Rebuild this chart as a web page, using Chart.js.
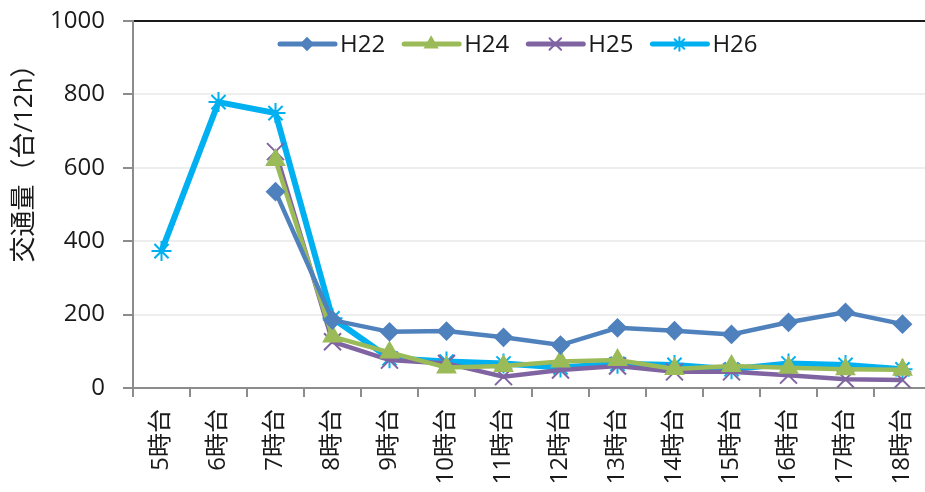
<!DOCTYPE html>
<html>
<head>
<meta charset="utf-8">
<script src="https://cdn.jsdelivr.net/npm/chart.js@4.4.1/dist/chart.umd.min.js"></script>
<style>
  html, body { margin: 0; background: #fff; overflow: hidden; }
</style>
</head>
<body>
<canvas id="chart" width="945" height="520"></canvas>
<script>
// categories and series (null = no survey that hour)
const hours = ['5時台', '6時台', '7時台', '8時台', '9時台', '10時台', '11時台',
  '12時台', '13時台', '14時台', '15時台', '16時台', '17時台', '18時台'];
const h22 = [null, null, 535, 185, 153, 155, 138, 117, 164, 156, 146, 179, 206, 174];
const h24 = [null, null, 621, 140, 97, 56, 60, 72, 76, 52, 60, 55, 51, 50];
const h25 = [null, null, 644, 126, 76, 67, 31, 49, 60, 44, 44, 35, 24, 22];
const h26 = [373, 779, 749, 190, 81, 72, 67, 56, 66, 63, 51, 67, 63, 51];
const yTicks = [0, 200, 400, 600, 800, 1000];
const yTitle = '交通量（台/12h）';

const font = "'Open Sans', 'Noto Sans CJK JP', sans-serif";
const textColor = '#1a1a1a';

function series(label, data, color, style, r, lw) {
  return {
    label: label,
    data: data,
    borderColor: color,
    backgroundColor: color,
    borderWidth: lw,
    pointStyle: style,
    pointRadius: r,
    pointBorderWidth: 2,
    pointBackgroundColor: color,
    pointBorderColor: color,
    tension: 0
  };
}

// y axis title, sits higher than the middle of the axis like in the original
const yTitlePlugin = {
  id: 'yTitle',
  afterDraw(chart) {
    const c = chart.ctx;
    c.save();
    c.translate(25, 157);
    c.rotate(-Math.PI / 2);
    c.font = '26px ' + font;
    c.fillStyle = textColor;
    c.textAlign = 'center';
    c.textBaseline = 'middle';
    c.fillText(yTitle, 0, 0);
    c.restore();
  }
};

// legend inside the plot: line + marker + name
const legendPlugin = {
  id: 'lineLegend',
  afterDatasetsDraw(chart) {
    const c = chart.ctx;
    const y = 44;
    let x = 280;
    c.save();
    c.font = '24px ' + font;
    chart.data.datasets.forEach(function(ds) {
      c.strokeStyle = ds.borderColor;
      c.fillStyle = ds.borderColor;
      c.lineWidth = 5;
      c.lineCap = 'round';
      c.beginPath();
      c.moveTo(x, y);
      c.lineTo(x + 55, y);
      c.stroke();
      c.lineWidth = 2;
      Chart.helpers.drawPoint(c, {
        pointStyle: ds.pointStyle,
        radius: ds.pointRadius * 0.68,
        rotation: 0,
        borderWidth: 2
      }, x + 27, y);
      c.fillStyle = textColor;
      c.textAlign = 'left';
      c.textBaseline = 'middle';
      c.fillText(ds.label, x + 60, y + 1);
      x += 60 + c.measureText(ds.label).width + 19;
    });
    c.restore();
  }
};

const ctx = document.getElementById('chart').getContext('2d');
new Chart(ctx, {
  type: 'line',
  data: {
    labels: hours,
    datasets: [
      series('H22', h22, '#4F81BD', 'rectRot', 8.5, 4.5),
      series('H24', h24, '#9BBB59', 'triangle', 10, 4.5),
      series('H25', h25, '#8064A2', 'crossRot', 12, 4.5),
      series('H26', h26, '#00B0F0', 'star', 10, 6)
    ]
  },
  plugins: [yTitlePlugin, legendPlugin],
  options: {
    responsive: false,
    animation: false,
    layout: { padding: { top: 21, right: 12, left: 0, bottom: 0 } },
    plugins: {
      legend: { display: false },
      tooltip: { enabled: false }
    },
    scales: {
      x: {
        offset: true,
        afterFit(scale) { scale.height = 132; },
        grid: {
          offset: true,
          drawOnChartArea: false,
          drawTicks: true,
          tickLength: 9,
          color: '#8c8c8c',
          lineWidth: 2
        },
        border: { color: '#8c8c8c', width: 2 },
        ticks: {
          minRotation: 90,
          maxRotation: 90,
          autoSkip: false,
          padding: 12,
          color: textColor,
          font: { family: font, size: 24 }
        }
      },
      y: {
        min: 0,
        max: 1000,
        afterFit(scale) {
          scale.width = 133;
          scale.paddingTop = 0;
          scale.paddingBottom = 0;
        },
        afterBuildTicks(scale) {
          scale.ticks = yTicks.map(function(v) { return { value: v }; });
        },
        ticks: {
          color: textColor,
          padding: 18,
          font: { family: font, size: 24 },
          callback: function(v) { return String(v); }
        },
        grid: {
          color: function(c) { return c.tick && c.tick.value === 1000 ? '#1a1a1a' : '#eeeeee'; },
          lineWidth: 2,
          tickLength: 10,
          tickColor: '#8c8c8c'
        },
        border: { color: '#8c8c8c', width: 2 }
      }
    }
  }
});
</script>
</body>
</html>
